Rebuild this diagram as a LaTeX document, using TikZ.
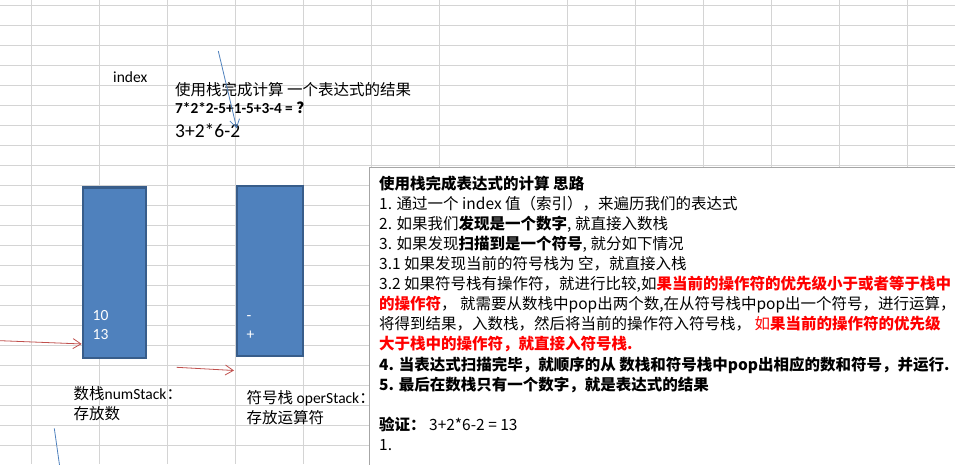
\documentclass[tikz,border=0pt]{standalone}
\usepackage{fontspec}
\setmainfont{Carlito}
\newfontfamily\cjk{Noto Sans CJK SC}
\usetikzlibrary{arrows.meta}
\definecolor{cellgrid}{HTML}{D4D4D4}
\definecolor{stackfill}{HTML}{4F81BD}
\definecolor{stackline}{HTML}{385D8A}
\definecolor{arrowred}{HTML}{C0504D}
\definecolor{arrowblue}{HTML}{4F81BD}
\definecolor{boxline}{HTML}{A6A6A6}
\begin{document}
\begin{tikzpicture}[x=1pt, y=-1pt, >={Straight Barb[length=8pt,width=10pt]},
  cell/.style={anchor=base west, inner sep=0pt},
  stack/.style={draw=stackline, fill=stackfill, line width=2.5pt, inner sep=0pt},
  stacktext/.style={cell, text=white, font=\fontsize{15.5}{18}\selectfont},
  redarrow/.style={->, arrowred, line width=0.8pt},
  bluearrow/.style={->, arrowblue, line width=0.8pt}]
  \useasboundingbox (0,0) rectangle (955,464);
  \clip (0,0) rectangle (955,464);

  % Sheet grid
  \foreach \y in {0,...,22}
    \draw[cellgrid, line width=1pt] (0,5.5+20*\y) -- (955,5.5+20*\y);
  \foreach \x in {31.7,99.5,167.5,235.5,303.5,371.5,439.3,567.6,635.5,703.5,771.5,839.3,907.3}
    \draw[cellgrid, line width=1pt] (\x,0) -- (\x,464);

  % Task text at the top
  \node[cell, font=\fontsize{15.5}{18}\selectfont] (index) at (113,82.7) {index};
  \node[cell, font=\cjk\fontsize{15.5}{18}\selectfont] (task) at (175,95) {使用栈完成计算 一个表达式的结果};
  \node[cell, font=\bfseries\fontsize{15.3}{18}\selectfont] (expr) at (175,113.3) {7*2*2-5+1-5+3-4 = {\cjk ？}};
  \node[cell, font=\fontsize{19.5}{22}\selectfont] (sample) at (175,137.7) {3+2*6-2};

  % The two stacks
  \node[stack, minimum width=63.1pt, minimum height=170.8pt] (numstack) at (114.5,272.7) {};
  \node[stack, minimum width=66.1pt, minimum height=170.1pt] (operstack) at (270,271) {};
  \node[stacktext] (num10) at (92.5,320.8) {10};
  \node[stacktext] (num13) at (92.5,339.8) {13};
  \node[stacktext] (opminus) at (246.5,320.5) {-};
  \node[stacktext] (opplus) at (246.5,339) {+};

  % multi-line cells: base is the last line
  \node[cell, font=\fontsize{15.5}{20}\selectfont, align=left] (numlabel) at (73.5,419.5)
    {{\cjk 数栈}numStack{\cjk ：}\\{\cjk 存放数}};
  \node[cell, font=\fontsize{15.5}{20}\selectfont, align=left] (operlabel) at (246.5,423.3)
    {{\cjk 符号栈} operStack{\cjk ：}\\{\cjk 存放运算符}};

  % Arrows
  \coordinate (feed) at (-2,340.6);
  \draw[redarrow] (feed) -- ([yshift=15.4pt]numstack.south west);
  \coordinate (opfeed) at (176.7,367.3);
  \draw[redarrow] (opfeed) -- ([xshift=-1.7pt, yshift=-13.2pt]operstack.south west);
  \coordinate (scanfrom) at (218.3,51);
  \coordinate (scanto) at (236.7,128.3);
  \draw[bluearrow] (scanfrom) -- (scanto);
  \coordinate (lowfrom) at (54.3,428.3);
  \coordinate (lowto) at (60.2,470);
  \draw[arrowblue, line width=0.8pt] (lowfrom) -- (lowto);

  % Text box with the steps
  \draw[boxline, fill=white, line width=0.8pt] (369,167.7) rectangle (965,475);
  \node[cell, font=\cjk\fontsize{15.5}{20.05}\selectfont, align=left] (idea) at (379,450.2)
    {\textbf{使用栈完成表达式的计算 思路}\\
     1. 通过一个 index 值（索引），来遍历我们的表达式\\
     2. 如果我们\textbf{发现是一个数字}, 就直接入数栈\\
     3. 如果发现\textbf{扫描到是一个符号}, 就分如下情况\\
     3.1 如果发现当前的符号栈为 空，就直接入栈\\
     3.2 如果符号栈有操作符，就进行比较,如\textcolor{red}{\textbf{果当前的操作符的优先级小于或者等于栈中}}\\
     \textcolor{red}{\textbf{的操作符}}， 就需要从数栈中pop出两个数,在从符号栈中pop出一个符号，进行运算，\\
     将得到结果，入数栈，然后将当前的操作符入符号栈， \textcolor{red}{如\textbf{果当前的操作符的优先级}}\\
     \textcolor{red}{\textbf{大于栈中的操作符，就直接入符号栈.}}\\
     \textbf{4. 当表达式扫描完毕，就顺序的从 数栈和符号栈中pop出相应的数和符号，并运行.}\\
     \textbf{5. 最后在数栈只有一个数字，就是表达式的结果}\\
     \mbox{}\\
     \textbf{验证：} 3+2*6-2 = 13\\
     1.};
\end{tikzpicture}
\end{document}
